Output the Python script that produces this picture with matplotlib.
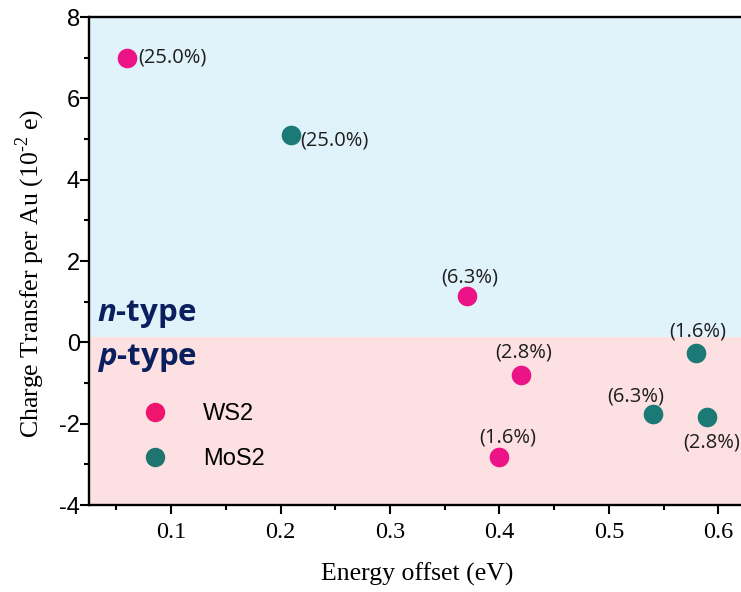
import matplotlib
matplotlib.use("Agg")
import matplotlib.pyplot as plt
from matplotlib.lines import Line2D
from matplotlib.ticker import MultipleLocator

plt.rcParams["mathtext.fontset"] = "custom"
plt.rcParams["mathtext.rm"] = "Liberation Serif"
plt.rcParams["mathtext.bfit"] = "Open Sans:italic:bold"

# Data
ws2_x = [0.06, 0.37, 0.42, 0.40]
ws2_y = [7.0, 1.15, -0.81, -2.83]
ws2_lab = ["(25.0%)", "(6.3%)", "(2.8%)", "(1.6%)"]
mos2_x = [0.21, 0.58, 0.54, 0.59]
mos2_y = [5.09, -0.27, -1.77, -1.84]
mos2_lab = ["(25.0%)", "(1.6%)", "(6.3%)", "(2.8%)"]
boundary = 0.12

ws2_c = "#EC1387"
mos2_c = "#1C7A76"
navy = "#0B1F5E"

fig = plt.figure(figsize=(7.41, 5.92), dpi=100)
ax = fig.add_axes([89/741, 1-505/592, (773-89)/741, (505-17)/592])
ax.set_xlim(0.025, 0.65)
ax.set_ylim(-4, 8)

ax.axhspan(boundary, 8, color="#E1F3FA", zorder=0, lw=0)
ax.axhspan(-4, boundary, color="#FDE1E2", zorder=0, lw=0)

ax.scatter(ws2_x, ws2_y, s=200, color=ws2_c, zorder=3, lw=0)
ax.scatter(mos2_x, mos2_y, s=200, color=mos2_c, zorder=3, lw=0)

lab_font = dict(family="Open Sans", fontsize=14.5, color="#1E1E1E")
# label offsets (points)
ws2_off = [(8, 0, "left"), (2, 13, "center"), (1.5, 16.5, "center"), (6, 14.5, "center")]
mos2_off = [(6, -3.5, "left"), (0.7, 16, "center"), (-12, 13, "center"), (3, -18, "center")]
for x, y, t, (dx, dy, ha) in zip(ws2_x, ws2_y, ws2_lab, ws2_off):
    ax.annotate(t, (x, y), xytext=(dx, dy), textcoords="offset points",
                ha=ha, va="center", **lab_font)
for x, y, t, (dx, dy, ha) in zip(mos2_x, mos2_y, mos2_lab, mos2_off):
    ax.annotate(t, (x, y), xytext=(dx, dy), textcoords="offset points",
                ha=ha, va="center", **lab_font)

ax.text(0.032, 0.69, r"$\boldsymbol{n}$-type", fontsize=22.5, fontweight="bold",
        color=navy, family="Open Sans", va="center", ha="left")
ax.text(0.032, -0.39, r"$\boldsymbol{p}$-type", fontsize=22.5, fontweight="bold",
        color=navy, family="Open Sans", va="center", ha="left")

handles = [Line2D([], [], marker="o", ls="", color="#F0146E", markersize=14, mew=0),
           Line2D([], [], marker="o", ls="", color="#1E7570", markersize=14, mew=0)]
leg = ax.legend(handles, ["WS2", "MoS2"], loc="upper left",
                bbox_to_anchor=(0.079, 0.208), frameon=False, borderpad=0,
                borderaxespad=0, handlelength=1.0,
                prop={"family": "Liberation Sans", "size": 17},
                handletextpad=1.54, labelspacing=0.95)

ax.xaxis.set_major_locator(MultipleLocator(0.1))
ax.xaxis.set_minor_locator(MultipleLocator(0.05))
ax.yaxis.set_major_locator(MultipleLocator(2))
ax.yaxis.set_minor_locator(MultipleLocator(1))
ax.tick_params(which="major", direction="out", length=6.5, width=1.5)
ax.tick_params(which="minor", direction="out", length=3.5, width=1.5)
ax.tick_params(axis="x", which="major", labelsize=17.5, pad=6)
ax.tick_params(axis="y", which="major", labelsize=17, pad=0)
ax.set_xticks([0.1, 0.2, 0.3, 0.4, 0.5, 0.6])
ax.set_xticklabels(["0.1", "0.2", "0.3", "0.4", "0.5", "0.6"], family="Liberation Serif")
ax.set_yticks([-4, -2, 0, 2, 4, 6, 8])
ax.set_yticklabels(["-4", "-2", "0", "2", "4", "6", "8"], family="Liberation Sans")

for s in ax.spines.values():
    s.set_linewidth(1.7)
ax.spines["right"].set_visible(False)

ax.set_xlabel("Energy offset (eV)", family="Liberation Serif", fontsize=18.5)
ax.set_ylabel("Charge Transfer per Au (10$^{\\mathregular{\u2010}2}$ e)", family="Liberation Serif",
              fontsize=18.5)
ax.xaxis.set_label_coords((417-89)/(773-89), -0.118)
ax.yaxis.set_label_coords(-0.061, 0.475)

fig.savefig("out.png", dpi=100)
